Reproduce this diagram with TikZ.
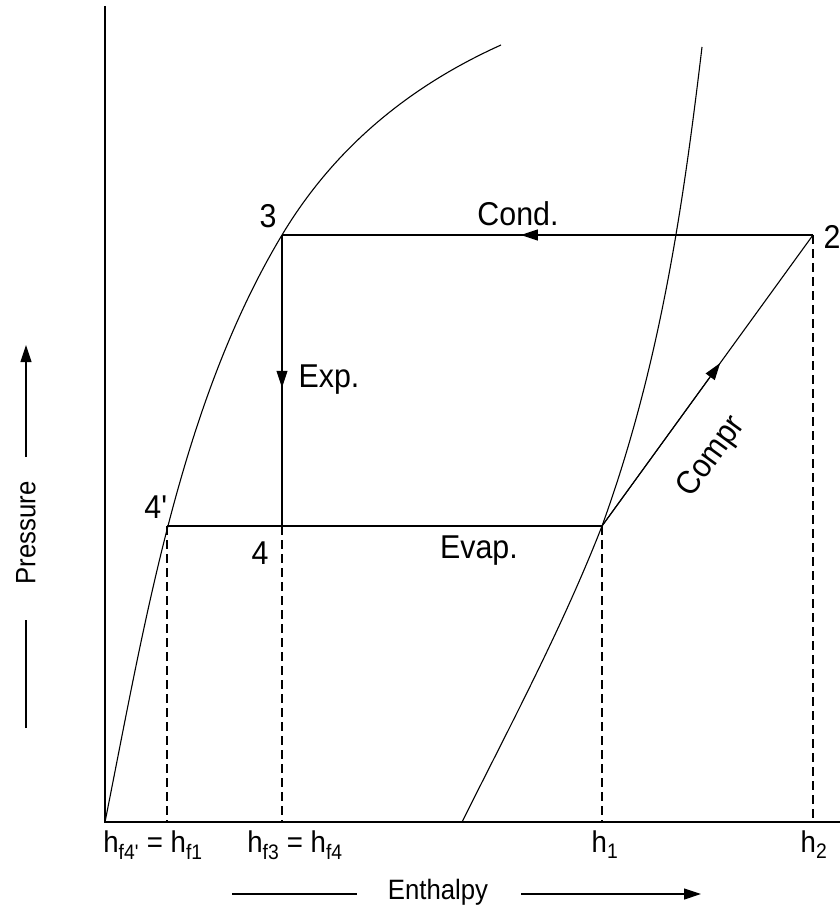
\documentclass[tikz,border=0pt]{standalone}
\usepackage{fontspec}
\setmainfont{Liberation Sans}[FakeStretch=0.92]
\usepackage{tikz}
\usetikzlibrary{arrows.meta, positioning, calc}

\begin{document}
\begin{tikzpicture}[
    x=1pt, y=-1pt,
    axis/.style={line width=1.5pt},
    curve/.style={line width=1.1pt},
    cycleline/.style={line width=1.4pt},
    guide/.style={line width=1.1pt, dash pattern=on 9pt off 5pt},
    lbl/.style={font=\fontsize{33}{38}\selectfont, inner sep=0pt},
    hlbl/.style={font=\fontsize{30}{36}\selectfont, inner sep=0pt},
    axlbl/.style={font=\fontsize{28}{32}\selectfont, inner sep=0pt},
    arrow/.style={-{Triangle[length=17pt,width=11pt]}}
]
\useasboundingbox (0,0) rectangle (840,907);

% state points
\coordinate (o) at (105,822);
\coordinate (p3) at (282,235);
\coordinate (p2) at (813,235);
\coordinate (p4p) at (167,526);
\coordinate (p4) at (282,526);
\coordinate (p1) at (602,526);

% axes
\draw[axis] (105,6) -- (o) -- (840,822);

% saturation curves
\draw[curve] (o) .. controls (145,622) and (180,405) .. (p3)
  .. controls (330,155) and (401,90) .. (501,45);
\draw[curve] (462,822) .. controls (512,722) and (563,626) .. (p1)
  .. controls (660,366) and (683,207) .. (702,47);

% cycle
\draw[cycleline] (p2) -- (p3);
\draw[cycleline, arrow] (p2) -- ($(p2)!0.55!(p3)$);
\draw[curve] (p3) -- (p4);
\draw[curve, arrow] (p3) -- ($(p3)!0.525!(p4)$);
\draw[cycleline] (p4p) -- (p1);
\draw[curve] (p1) -- (p2);
\draw[curve, arrow] (p1) -- ($(p1)!0.56!(p2)$);

% projections
\draw[guide] (p4p) -- (p4p |- o);
\draw[guide] (p4) -- (p4 |- o);
\draw[guide] (p1) -- (p1 |- o);
\draw[guide] (p2) -- (p2 |- o);

% point labels
\node[lbl] (l3) at (268,216) {3};
\node[lbl] (l2) at (832,237) {2};
\node[lbl] (l4p) at (156,507) {4\textquotesingle};
\node[lbl] (l4) at (260,553) {4};
\node[lbl] (cond) at (518,214) {Cond.};
\node[lbl] (exp) at (329,380) {Exp.};
\node[lbl] (evap) at (479,551) {Evap.};
\node[lbl, rotate=54] (compr) at (712,457) {Compr};

% enthalpy values
\node[hlbl] (hf1) at (153,845) {h\textsubscript{f4\textquotesingle} = h\textsubscript{f1}};
\node[hlbl] (hf4) at (295,845) {h\textsubscript{f3} = h\textsubscript{f4}};
\node[hlbl] (h1) at (605,845) {h\textsubscript{1}};
\node[hlbl] (h2) at (814,845) {h\textsubscript{2}};

% axis titles
\node[axlbl] (enth) at (438,892) {Enthalpy};
\coordinate (e0) at (232,894);
\coordinate (e1) at (357,894);
\coordinate (e2) at (521,894);
\coordinate (e3) at (701,894);
\draw[curve] (e0) -- (e1);
\draw[curve, arrow] (e2) -- (e3);

\node[axlbl, rotate=90] (pres) at (26,533) {Pressure};
\coordinate (q0) at (26,728);
\coordinate (q1) at (26,620);
\coordinate (q2) at (26,457);
\coordinate (q3) at (26,345);
\draw[curve] (q0) -- (q1);
\draw[curve, arrow] (q2) -- (q3);
\end{tikzpicture}
\end{document}
